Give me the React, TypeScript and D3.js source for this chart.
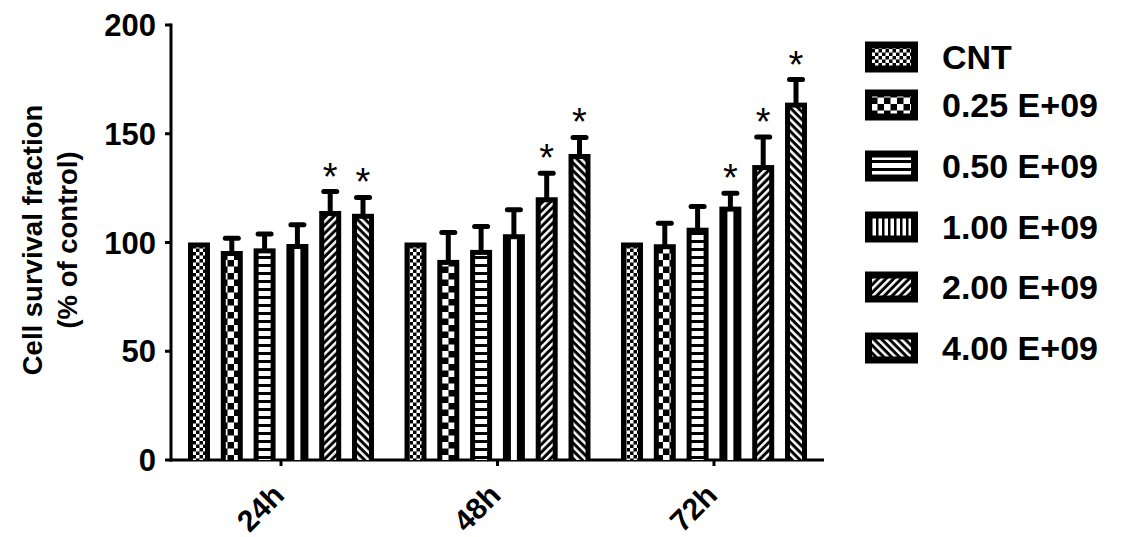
import React from 'react';
import * as d3 from 'd3';

// ---- data ----
const groups = ['24h', '48h', '72h'];
const seriesNames = ['CNT', '0.25 E+09', '0.50 E+09', '1.00 E+09', '2.00 E+09', '4.00 E+09'];
const means24h = [100, 96.1, 97.3, 99.3, 114.5, 113.2];
const errors24h = [0, 5.9, 6.6, 8.9, 8.9, 7.5];
const means48h = [100, 92, 96.6, 103.8, 120.8, 140.7];
const errors48h = [0, 12.6, 10.7, 11.3, 11, 7.6];
const means72h = [100, 99.2, 106.8, 116.5, 135.6, 164.3];
const errors72h = [0, 9.6, 9.8, 6.1, 12.9, 10.6];
const signif24h = [false, false, false, false, true, true];
const signif48h = [false, false, false, false, true, true];
const signif72h = [false, false, false, true, true, true];
const yTicks = [0, 50, 100, 150, 200];
const yTitle = ['Cell survival fraction', '(% of control)'];

const groupData = [
  { g: groups[0], means: means24h, errs: errors24h, sig: signif24h },
  { g: groups[1], means: means48h, errs: errors48h, sig: signif48h },
  { g: groups[2], means: means72h, errs: errors72h, sig: signif72h },
];

// ---- layout / style ----
const W = 1144;
const H = 537;
const FONT = '"Liberation Sans", Arial, Helvetica, sans-serif';
const patternIds = ['p-cnt', 'p-c25', 'p-h50', 'p-v100', 'p-d200', 'p-d400'];
const legendRowY = [57, 105, 166, 227, 287, 348];

const y = d3.scaleLinear().domain([0, 200]).range([460, 25]);
const x0 = d3.scaleBand().domain(groups).range([172.75, 822.25]).padding(0);
const x1 = d3
  .scaleBand()
  .domain(seriesNames)
  .range([0, x0.bandwidth()])
  .paddingInner(0.33)
  .paddingOuter(0.465);

function Patterns() {
  return (
    <defs>
      <pattern id="p-cnt" patternUnits="userSpaceOnUse" width={7} height={7}>
        <rect width={7} height={7} fill="#000" />
        <rect x={0} y={0} width={3.5} height={3.5} fill="#fff" />
        <rect x={3.5} y={3.5} width={3.5} height={3.5} fill="#fff" />
      </pattern>
      <pattern id="p-c25" patternUnits="userSpaceOnUse" width={13} height={13}>
        <rect width={13} height={13} fill="#000" />
        <rect x={0} y={0} width={6.5} height={6.5} fill="#fff" />
        <rect x={6.5} y={6.5} width={6.5} height={6.5} fill="#fff" />
      </pattern>
      <pattern id="p-h50" patternUnits="userSpaceOnUse" width={8} height={8}>
        <rect width={8} height={8} fill="#fff" />
        <rect x={0} y={0} width={8} height={3} fill="#000" />
      </pattern>
      <pattern id="p-v100" patternUnits="userSpaceOnUse" width={6} height={6}>
        <rect width={6} height={6} fill="#fff" />
        <rect x={0} y={0} width={2.5} height={6} fill="#000" />
      </pattern>
      <pattern id="p-d200" patternUnits="userSpaceOnUse" width={5.5} height={5.5} patternTransform="rotate(45)">
        <rect width={5.5} height={5.5} fill="#000" />
        <rect x={0} y={0} width={2.5} height={5.5} fill="#fff" />
      </pattern>
      <pattern id="p-d400" patternUnits="userSpaceOnUse" width={5.5} height={5.5} patternTransform="rotate(-45)">
        <rect width={5.5} height={5.5} fill="#000" />
        <rect x={0} y={0} width={2.5} height={5.5} fill="#fff" />
      </pattern>
    </defs>
  );
}

function Bars() {
  const bw = x1.bandwidth();
  const out: React.ReactNode[] = [];
  groupData.forEach((gd) => {
    const gx = x0(gd.g) as number;
    seriesNames.forEach((s, i) => {
      const bx = gx + (x1(s) as number);
      const v = gd.means[i];
      const top = y(v);
      const base = y(0);
      const side = i === 3 ? 8 : 5;
      const fill = i === 3 ? '#fff' : `url(#${patternIds[i]})`;
      const cx = bx + bw / 2;
      const capY = y(v + gd.errs[i]);
      out.push(
        <g key={`${gd.g}-${i}`}>
          {gd.errs[i] > 0 && (
            <g>
              <line x1={cx} x2={cx} y1={top + 2} y2={capY} stroke="#000" strokeWidth={5} />
              <line x1={cx - 6.5} x2={cx + 6.5} y1={capY} y2={capY} stroke="#000" strokeWidth={5} strokeLinecap="round" />
            </g>
          )}
          <rect x={bx} y={top} width={bw} height={base - top} fill="#000" />
          <rect x={bx + side} y={top + 5} width={bw - 2 * side} height={base - top - 5} fill={fill} />
          {gd.sig[i] && (
            <text x={cx} y={capY - 2} textAnchor="middle" fontFamily={FONT} fontSize={38} fill="#000">*</text>
          )}
        </g>
      );
    });
  });
  return <g>{out}</g>;
}

function Axes() {
  return (
    <g>
      <line x1={171} x2={171} y1={y(200) - 1.5} y2={y(0) + 1.5} stroke="#000" strokeWidth={3} />
      {yTicks.map((t) => (
        <g key={t}>
          <line x1={165} x2={171} y1={y(t)} y2={y(t)} stroke="#000" strokeWidth={3} />
          <text x={156} y={y(t)} dy="0.36em" textAnchor="end" fontFamily={FONT} fontWeight="bold" fontSize={31} fill="#000">{t}</text>
        </g>
      ))}
      <line x1={169.5} x2={824} y1={y(0)} y2={y(0)} stroke="#000" strokeWidth={3} />
      {groups.map((g) => {
        const cx = (x0(g) as number) + x0.bandwidth() / 2;
        return (
          <g key={g}>
            <line x1={cx} x2={cx} y1={y(0)} y2={y(0) + 6} stroke="#000" strokeWidth={3} />
            <text transform={`translate(${cx + 5},${497}) rotate(-45)`} textAnchor="end" fontFamily={FONT} fontWeight="bold" fontSize={30} fill="#000">{g}</text>
          </g>
        );
      })}
      <text transform="translate(42,240) rotate(-90)" textAnchor="middle" fontFamily={FONT} fontWeight="bold" fontSize={27.5} fill="#000">{yTitle[0]}</text>
      <text transform="translate(77,240) rotate(-90)" textAnchor="middle" fontFamily={FONT} fontWeight="bold" fontSize={27.5} fill="#000">{yTitle[1]}</text>
    </g>
  );
}

function Legend() {
  return (
    <g>
      {seriesNames.map((s, i) => {
        const cy = legendRowY[i];
        return (
          <g key={s}>
            <rect x={865} y={cy - 15.5} width={53} height={31} fill="#000" />
            <rect x={872} y={cy - 8.5} width={39} height={17} fill={`url(#${patternIds[i]})`} />
            <text x={942} y={cy} dy="0.35em" fontFamily={FONT} fontWeight="bold" fontSize={34} fill="#000">{s}</text>
          </g>
        );
      })}
    </g>
  );
}

export default function App() {
  return (
    <svg width={W} height={H} style={{ position: 'absolute', left: 0, top: 0, background: '#fff' }}>
      <rect width={W} height={H} fill="#fff" />
      <Patterns />
      <Axes />
      <Bars />
      <Legend />
    </svg>
  );
}
